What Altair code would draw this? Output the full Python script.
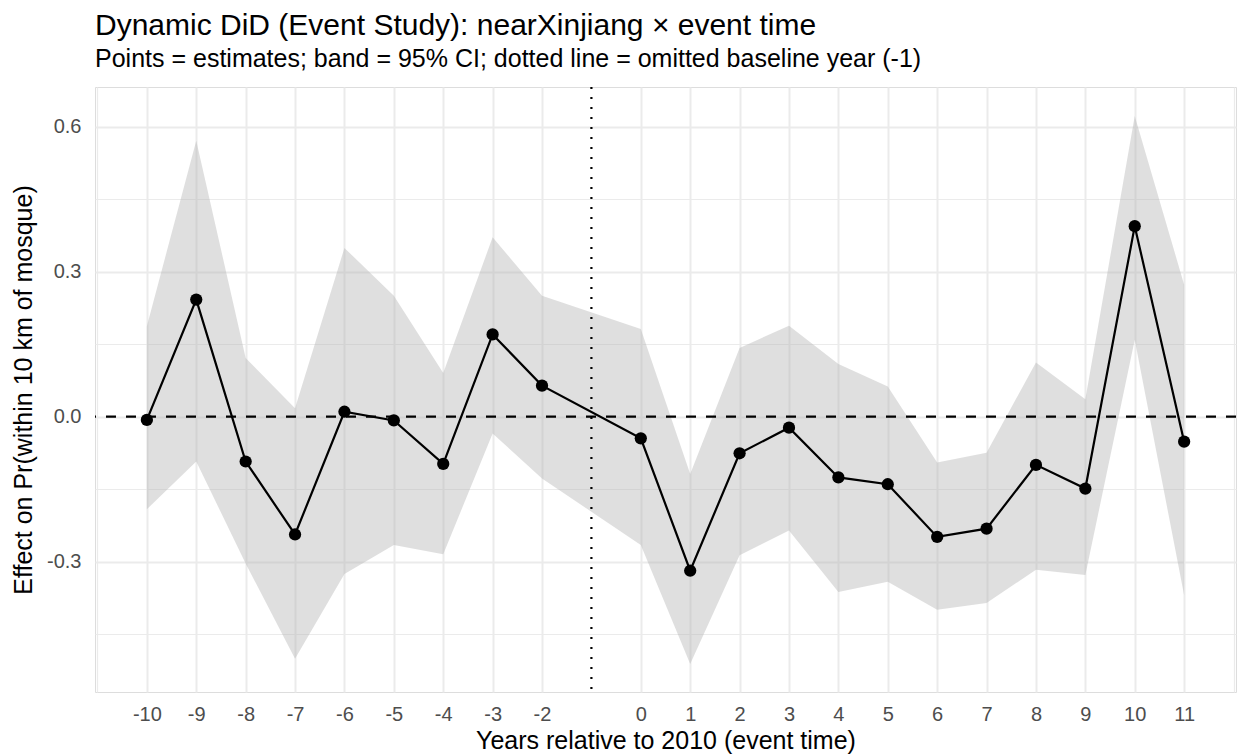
import altair as alt
import pandas as pd

# ---- data ----
event_time = [-10, -9, -8, -7, -6, -5, -4, -3, -2, 0, 1, 2, 3, 4, 5, 6, 7, 8, 9, 10, 11]
estimate = [-0.007, 0.242, -0.093, -0.244, 0.010, -0.008, -0.098, 0.170, 0.064,
            -0.045, -0.319, -0.076, -0.023, -0.126, -0.140, -0.249, -0.232, -0.100,
            -0.149, 0.394, -0.052]
ci_low = [-0.192, -0.093, -0.304, -0.501, -0.326, -0.266, -0.285, -0.035, -0.128,
          -0.266, -0.512, -0.287, -0.236, -0.363, -0.342, -0.400, -0.386, -0.317,
          -0.328, 0.159, -0.370]
ci_high = [0.187, 0.571, 0.121, 0.017, 0.349, 0.250, 0.090, 0.371, 0.250,
           0.181, -0.119, 0.142, 0.188, 0.109, 0.062, -0.095, -0.075, 0.112,
           0.036, 0.622, 0.273]

x_major = [-10, -9, -8, -7, -6, -5, -4, -3, -2, 0, 1, 2, 3, 4, 5, 6, 7, 8, 9, 10, 11]
x_minor = [-11, -10.5, -9.5, -8.5, -7.5, -6.5, -5.5, -4.5, -3.5, -2.5, -1,
           0.5, 1.5, 2.5, 3.5, 4.5, 5.5, 6.5, 7.5, 8.5, 9.5, 10.5, 11.5, 12]
y_major = [-0.3, 0.0, 0.3, 0.6]
y_minor = [-0.45, -0.15, 0.15, 0.45]
baseline_year = [-1]
zero_line = [0.0]

title = "Dynamic DiD (Event Study): nearXinjiang \u00d7 event time"
subtitle = "Points = estimates; band = 95% CI; dotted line = omitted baseline year (-1)"
x_title = "Years relative to 2010 (event time)"
y_title = "Effect on Pr(within 10 km of mosque)"

df = pd.DataFrame({"t": event_time, "est": estimate, "lo": ci_low, "hi": ci_high})
vdf = pd.DataFrame({"t": baseline_year})
hdf = pd.DataFrame({"y": zero_line})

FONT = "Liberation Sans"
x_scale = alt.Scale(domain=[-11.05, 12.05], nice=False, zero=False)
y_scale = alt.Scale(domain=[-0.570, 0.682], nice=False, zero=False)

xmaj = "[" + ",".join(str(v) for v in x_major) + "]"
ymaj = "[" + ",".join(str(v) for v in y_major) + "]"

x_axis = alt.Axis(
    values=sorted(x_major + x_minor),
    labelExpr=f"indexof({xmaj}, datum.value) >= 0 ? '' + datum.value : ''",
    title=x_title,
    grid=True,
    gridColor="#ebebeb",
    gridWidth={"condition": {"test": f"indexof({xmaj}, datum.value) >= 0", "value": 2}, "value": 1.2},
    ticks=False, tickSize=0, domain=False,
    labelFont=FONT, labelFontSize=20, labelColor="#4d4d4d", labelPadding=12,
    labelFlush=False, labelOverlap=False,
    titleFont=FONT, titleFontSize=25, titleColor="black", titleFontWeight="normal",
    titlePadding=4,
)
y_axis = alt.Axis(
    values=sorted(y_major + y_minor),
    labelExpr=f"indexof({ymaj}, datum.value) >= 0 ? replace(format(datum.value, '.1f'), '\u2212', '-') : ''",
    title=y_title,
    grid=True,
    gridColor="#ebebeb",
    gridWidth={"condition": {"test": f"indexof({ymaj}, datum.value) >= 0", "value": 2}, "value": 1.2},
    ticks=False, tickSize=0, domain=False,
    labelFont=FONT, labelFontSize=20, labelColor="#4d4d4d", labelPadding=14,
    labelFlush=False, labelOverlap=False,
    titleFont=FONT, titleFontSize=25, titleColor="black", titleFontWeight="normal",
    titlePadding=10,
)

base = alt.Chart(df)

band = base.mark_area(color="#b3b3b3", opacity=0.42).encode(
    x=alt.X("t:Q", scale=x_scale, axis=x_axis),
    y=alt.Y("lo:Q", scale=y_scale, axis=y_axis),
    y2="hi:Q",
)

hline = alt.Chart(hdf).mark_rule(color="black", strokeWidth=2.2, strokeDash=[10, 10]).encode(
    y=alt.Y("y:Q", scale=y_scale)
)

vline = alt.Chart(vdf).mark_rule(color="black", strokeWidth=2.2, strokeDash=[2, 8]).encode(
    x=alt.X("t:Q", scale=x_scale)
)

line = base.mark_line(color="black", strokeWidth=2.2).encode(
    x=alt.X("t:Q", scale=x_scale),
    y=alt.Y("est:Q", scale=y_scale),
)

points = base.mark_circle(color="black", opacity=1, size=150).encode(
    x=alt.X("t:Q", scale=x_scale),
    y=alt.Y("est:Q", scale=y_scale),
)

chart = alt.layer(band, hline, vline, line, points).properties(
    width=1141,
    height=605,
    autosize=alt.AutoSizeParams(type="none"),
    padding={"left": 95, "top": 87, "right": 2, "bottom": 64},
    title=alt.TitleParams(
        text=title,
        subtitle=subtitle,
        anchor="start",
        frame="group",
        font=FONT,
        fontSize=30,
        fontWeight="normal",
        color="black",
        subtitleFont=FONT,
        subtitleFontSize=25,
        subtitleColor="black",
        subtitlePadding=6,
        offset=14,
    ),
).configure_view(stroke=None).configure(background="white")

chart.save("out.html", embed_options={"renderer": "svg", "actions": False})
